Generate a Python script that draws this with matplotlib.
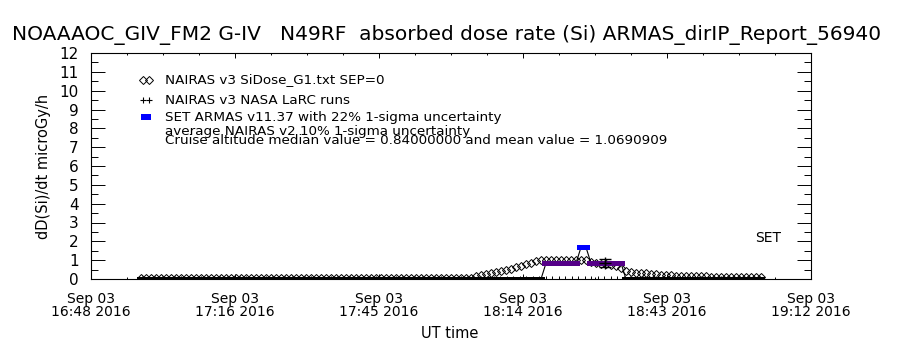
import numpy as np
import matplotlib
matplotlib.use("Agg")
from matplotlib import pyplot as plt
import matplotlib.dates as mdates
from matplotlib.ticker import FixedLocator
from matplotlib.colors import LinearSegmentedColormap, Normalize
from datetime import datetime, timedelta

# ---- data (minutes after 16:48 UT, 2016-09-03) ----
start = datetime(2016, 9, 3, 16, 48)
nairas_t0 = 10.0          # first NAIRAS SiDose sample, minutes after start
nairas_step = 1.0
nairas_dose = [0.03] * 67 + [
    0.15, 0.20, 0.25, 0.30, 0.36, 0.42, 0.48, 0.55, 0.62, 0.70, 0.78, 0.86, 0.94, 1.00,
    1.03, 1.03, 1.03, 1.03, 1.03, 1.03, 1.03, 1.03,
    1.00, 0.92, 0.86, 0.80, 0.78, 0.75, 0.70, 0.60,
    0.45, 0.38, 0.33, 0.30, 0.30, 0.28, 0.25, 0.22, 0.20, 0.19, 0.18, 0.17,
    0.16, 0.16, 0.15, 0.15, 0.14, 0.13, 0.13, 0.12, 0.12, 0.11, 0.11, 0.10, 0.10, 0.10, 0.09, 0.09]

armas_t0 = 10.0
armas_step = 1.0
armas_dose = [0.0] * 81 + [0.84] * 7 + [1.68, 1.68] + [0.84] * 7 + [0.0] * 28

larc_t0 = 10.3
larc_step = 1.3
larc_dose = [0.0] * 96
larc_cruise_t = [102.8]
larc_cruise_dose = [0.84]
larc_cruise_err = [0.2]

major_minutes = [0, 28.8, 57.6, 86.4, 115.2, 144.0]

title = "NOAAAOC_GIV_FM2 G-IV   N49RF  absorbed dose rate (Si) ARMAS_dirIP_Report_56940"
legend_lines = ["NAIRAS v3 SiDose_G1.txt SEP=0",
                "NAIRAS v3 NASA LaRC runs",
                "SET ARMAS v11.37 with 22% 1-sigma uncertainty",
                "average NAIRAS v2 10% 1-sigma uncertainty",
                "Cruise altitude median value = 0.84000000 and mean value = 1.0690909"]


def to_time(t0, step, n):
    return [start + timedelta(minutes=t0 + step * i) for i in range(n)]


def px(x, y):
    # pixel position in the 900x350 image -> figure fraction
    return x / 900.0, 1 - y / 350.0


plt.rcParams['font.family'] = ['DejaVu Sans']
fig = plt.figure(figsize=(9, 3.5), dpi=100)
ax = fig.add_axes([91 / 900, 71 / 350, 720 / 900, 226 / 350])

nairas_time = to_time(nairas_t0, nairas_step, len(nairas_dose))
armas_time = to_time(armas_t0, armas_step, len(armas_dose))
larc_time = to_time(larc_t0, larc_step, len(larc_dose))

# NAIRAS diamonds
ax.plot(nairas_time, nairas_dose, ls='none', marker='D', ms=3.6, mfc='none', mec='black', mew=0.7)

# ARMAS: thin line + colour-coded wide markers
wide = [(-1, -0.55), (1, -0.55), (1, 0.55), (-1, 0.55), (-1, -0.55)]
cmap = LinearSegmentedColormap.from_list('armas', ['black', '#550088', '#0000ff'])
ax.plot(armas_time, armas_dose, color='black', lw=0.8)
ax.scatter(armas_time, armas_dose, c=armas_dose, cmap=cmap, norm=Normalize(0, 1.68),
           marker=wide, s=40, linewidths=0, zorder=3)

# LaRC pluses
ax.plot(larc_time, larc_dose, ls='none', marker='+', ms=4, color='black', mew=0.7, zorder=4)
ax.errorbar([start + timedelta(minutes=m) for m in larc_cruise_t], larc_cruise_dose,
            yerr=larc_cruise_err, fmt='+', ms=8, color='black', mew=1.0, elinewidth=1.0,
            capsize=4, capthick=1.0, zorder=5)

ax.text(start + timedelta(minutes=132.8), 2.2, "SET", fontsize=10, ha='left', va='center')

# axes
ax.set_xlim(start, start + timedelta(minutes=144))
ax.set_ylim(0, 12)
ax.xaxis.set_major_locator(FixedLocator(
    [mdates.date2num(start + timedelta(minutes=m)) for m in major_minutes]))
ax.xaxis.set_minor_locator(FixedLocator(
    [mdates.date2num(start + timedelta(minutes=7.2 * k)) for k in range(21)]))
ax.xaxis.set_major_formatter(mdates.DateFormatter('%b %d\n%H:%M %Y'))
ax.set_yticks(range(13))
ax.set_yticks(np.arange(0.5, 12, 1.0), minor=True)
ax.tick_params(axis='x', which='major', direction='in', length=3.3, width=0.7, top=True,
               labelsize=10, pad=9)
ax.tick_params(axis='x', which='minor', direction='in', length=1.7, width=0.7, top=True)
ax.tick_params(axis='y', which='major', direction='in', length=10.4, width=0.7, right=True,
               labelsize=11, pad=9)
ax.tick_params(axis='y', which='minor', direction='in', length=5.2, width=0.7, right=True)
for lab in ax.get_xticklabels():
    lab.set_linespacing(1.0)
for s in ax.spines.values():
    s.set_linewidth(0.8)

ax.set_ylabel("dD(Si)/dt microGy/h", fontsize=10.5, labelpad=6)
fig.text(*px(450, 333), "UT time", fontsize=10.5, ha='center', va='center')
fig.text(*px(447, 35), title, fontsize=14.5, ha='center', va='center')

# legend drawn by hand, IDL style
sym_y = [80, 100, 117]
for x in (143, 149):
    fig.lines.append(plt.Line2D(*zip(px(x, sym_y[0])), marker='D', ms=3.6, mfc='none',
                                mec='black', mew=0.7, transform=fig.transFigure))
    fig.lines.append(plt.Line2D(*zip(px(x, sym_y[1])), marker='+', ms=5, color='black',
                                mew=0.8, transform=fig.transFigure))
fig.lines.append(plt.Line2D(*zip(px(146, sym_y[2])), marker=wide, ms=7, color='#0000ff',
                            mew=0, transform=fig.transFigure))
text_y = [80, 100, 117, 131, 141]
for yy, s in zip(text_y, legend_lines):
    fig.text(*px(165, yy), s, fontsize=9.7, ha='left', va='center')

fig.savefig("out.png", dpi=100)
